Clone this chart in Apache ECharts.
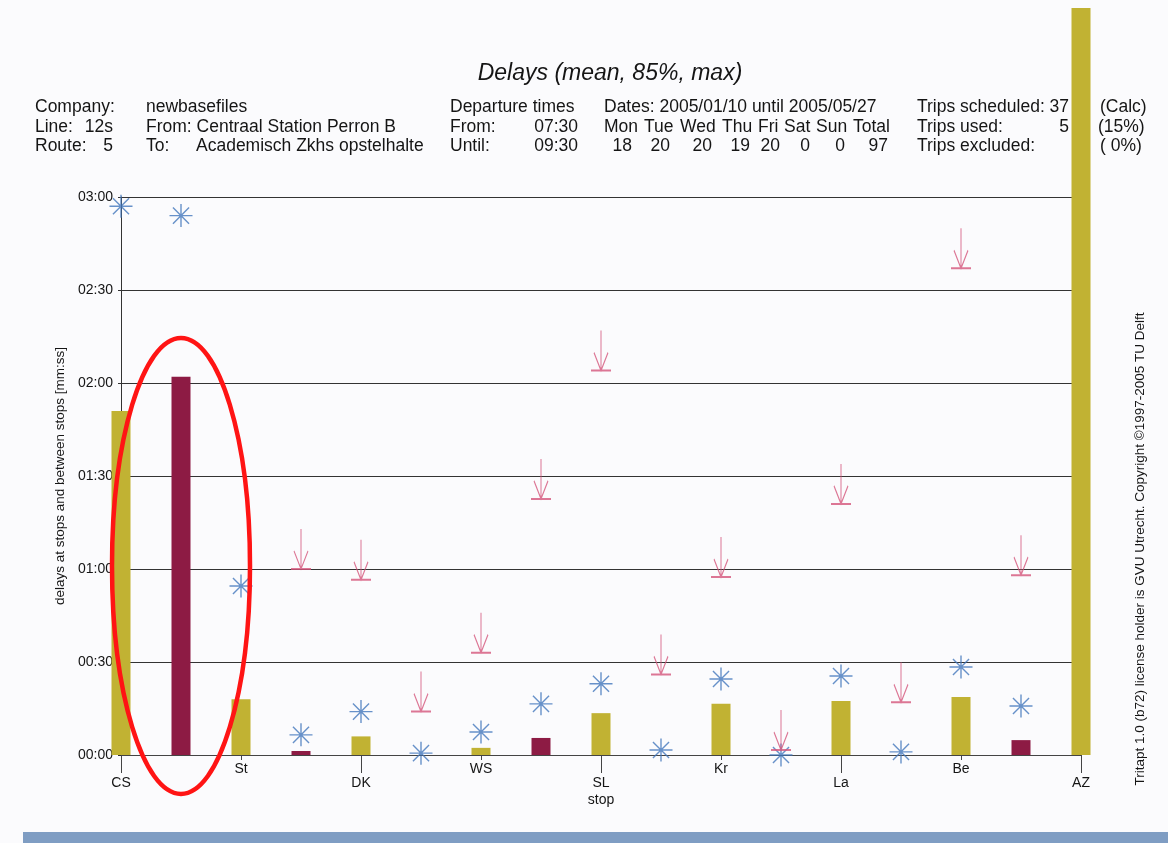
<!DOCTYPE html>
<html>
<head>
<meta charset="utf-8">
<script src="https://cdn.jsdelivr.net/npm/echarts@6/dist/echarts.min.js"></script>
<style>html,body{margin:0;padding:0;background:#fff}#c{width:1168px;height:843px}</style>
</head>
<body>
<div id="c"></div>
<script>
// ---- data (seconds) ----
var categories = ['CS','','St','','DK','','WS','','SL\nstop','','Kr','','La','','Be','','AZ'];
var upperLabelIdx = [2, 6, 10, 14];
var lowerLabelIdx = [0, 4, 8, 12, 16];
var meanDelay = [111, 122, 18, 1.3, 6, 0, 2.3, 5.5, 13.5, 0, 16.5, 0, 17.4, 0, 18.7, 4.8, 241];
var p85Delay  = [177, 174, 54.5, 6.5, 14, 0.6, 7.4, 16.5, 23, 1.6, 24.5, 0, 25.5, 1, 28.4, 15.8, null];
var maxDelay  = [null, null, null, 60, 56.5, 14, 33, 82.6, 124, 26, 57.4, 1.6, 81, 17, 157, 58, null];
var yTicks = [0, 30, 60, 90, 120, 150, 180];

var headerRows = [
  ['Company:', 'newbasefiles', 'Departure times', 'Dates: 2005/01/10 until 2005/05/27', 'Trips scheduled: 37', '(Calc)'],
  ['Line:', '12s', 'From: Centraal Station Perron B', 'From:', '07:30', 'Trips used:', '5', '(15%)'],
  ['Route:', '5', 'To:', 'Academisch Zkhs opstelhalte', 'Until:', '09:30', 'Trips excluded:', '( 0%)']
];
var dayNames = ['Mon', 'Tue', 'Wed', 'Thu', 'Fri', 'Sat', 'Sun', 'Total'];
var dayCounts = ['18', '20', '20', '19', '20', '0', '0', '97'];

var YELLOW = '#c1b233', DARKRED = '#8d1b44', PINK = '#d4557b', BLUE = '#4277bb';
var FONT = '"Liberation Sans", Arial, sans-serif';
var HF = 17.5;

function pad(n){ return (n < 10 ? '0' : '') + n; }
function mmss(v){ return pad(Math.floor(v / 60)) + ':' + pad(Math.round(v % 60)); }

var chart = echarts.init(document.getElementById('c'));

function txt(x, y, s, align, size, extra) {
  var o = { type: 'text', x: x, y: y, silent: true,
    style: { text: s, fill: '#151515', font: (size || HF) + 'px ' + FONT, textAlign: align || 'left', textVerticalAlign: 'middle' } };
  if (extra) for (var k in extra) o[k] = extra[k];
  return o;
}

var rowY = [107, 127, 146];
var r = headerRows;
var graphics = [
  { type: 'rect', shape: { x: 23, y: 832, width: 1145, height: 11 }, style: { fill: '#7f9dc3' }, silent: true },
  // row 1
  txt(35, rowY[0], r[0][0]), txt(146, rowY[0], r[0][1]), txt(450, rowY[0], r[0][2]),
  txt(604, rowY[0], r[0][3]), txt(917, rowY[0], r[0][4]), txt(1100, rowY[0], r[0][5]),
  // row 2
  txt(35, rowY[1], r[1][0]), txt(113, rowY[1], r[1][1], 'right'), txt(146, rowY[1], r[1][2]),
  txt(450, rowY[1], r[1][3]), txt(578, rowY[1], r[1][4], 'right'),
  txt(917, rowY[1], r[1][5]), txt(1069, rowY[1], r[1][6], 'right'), txt(1098, rowY[1], r[1][7]),
  // row 3
  txt(35, rowY[2], r[2][0]), txt(113, rowY[2], r[2][1], 'right'), txt(146, rowY[2], r[2][2]),
  txt(196, rowY[2], r[2][3]), txt(450, rowY[2], r[2][4]), txt(578, rowY[2], r[2][5], 'right'),
  txt(917, rowY[2], r[2][6]), txt(1100, rowY[2], r[2][7]),
  // copyright vertical
  txt(1140, 549, 'Tritapt 1.0 (b72) license holder is GVU Utrecht. Copyright \u00a91997-2005 TU Delft', 'center', 13.5, { rotation: Math.PI / 2 })
];
var dayX = [604, 644, 680, 722, 758, 784, 816, 853];
var countRight = [632, 670, 712, 750, 780, 810, 845, 888];
dayNames.forEach(function (d, i) { graphics.push(txt(dayX[i], rowY[1], d, 'left')); });
dayCounts.forEach(function (c, i) { graphics.push(txt(countRight[i], rowY[2], c, 'right')); });

var starPath = 'path://M10 0L10 20M0 10L20 10M3 3L17 17M17 3L3 17';
var arrowPath = 'path://M10 0L10 40M3 22L10 40L17 22M0 40L20 40';

var labelStyle = { color: '#151515', fontSize: 14, fontFamily: FONT, lineHeight: 17 };

chart.setOption({
  backgroundColor: '#fbfbfd',
  animation: false,
  title: {
    text: 'Delays (mean, 85%, max)', left: 605, top: 57, textAlign: 'center',
    textStyle: { fontSize: 23, fontStyle: 'italic', fontWeight: 'normal', fontFamily: FONT, color: '#151515' }
  },
  grid: { left: 121, right: 87, top: 197, bottom: 88, containLabel: false },
  xAxis: [
    {
      type: 'category', data: categories, boundaryGap: false,
      axisLine: { show: true, lineStyle: { color: '#444', width: 1 } },
      axisTick: { show: true, length: 5, lineStyle: { color: '#444' },
        interval: function (i) { return upperLabelIdx.indexOf(i) >= 0; } },
      axisLabel: Object.assign({ margin: 6,
        interval: function (i) { return upperLabelIdx.indexOf(i) >= 0; } }, labelStyle),
      splitLine: { show: false }
    },
    {
      type: 'category', data: categories, boundaryGap: false, position: 'bottom', gridIndex: 0,
      axisLine: { show: false },
      axisTick: { show: true, length: 18, lineStyle: { color: '#444' },
        interval: function (i) { return lowerLabelIdx.indexOf(i) >= 0; } },
      axisLabel: Object.assign({ margin: 20,
        interval: function (i) { return lowerLabelIdx.indexOf(i) >= 0; } }, labelStyle),
      splitLine: { show: false }
    }
  ],
  yAxis: {
    type: 'value', min: yTicks[0], max: yTicks[yTicks.length - 1], interval: 30,
    name: 'delays at stops and between stops [mm:ss]', nameLocation: 'middle', nameGap: 50,
    nameRotate: 90, nameTextStyle: { color: '#151515', fontSize: 13.5, fontFamily: FONT },
    axisLine: { show: true, lineStyle: { color: '#333' } },
    axisTick: { show: true, length: 3, lineStyle: { color: '#333' } },
    axisLabel: { formatter: mmss, margin: 8, color: '#151515', fontSize: 14, fontFamily: FONT },
    splitLine: { show: true, lineStyle: { color: '#333', width: 1 } }
  },
  series: [
    {
      name: 'mean', type: 'bar', barWidth: 19, clip: false, z: 2,
      data: meanDelay.map(function (v, i) {
        return { value: v, itemStyle: { color: i % 2 === 0 ? YELLOW : DARKRED } };
      })
    },
    {
      name: '85%', type: 'scatter', symbol: starPath, symbolSize: 23, z: 3,
      itemStyle: { color: 'rgba(0,0,0,0)', borderColor: BLUE, borderWidth: 1.4 },
      data: p85Delay
    },
    {
      name: 'max', type: 'scatter', symbol: arrowPath, symbolSize: [20, 40], symbolOffset: [0, -20], z: 4,
      itemStyle: { color: 'rgba(0,0,0,0)', borderColor: PINK, borderWidth: 1.4 },
      data: maxDelay
    }
  ],
  graphic: graphics
});

// red ellipse annotation around the second bar
var c = chart.convertToPixel({ xAxisIndex: 0, yAxisIndex: 0 }, [1, 61]);
graphics.push({ type: 'ellipse', silent: true, z: 100,
  shape: { cx: c[0], cy: c[1], rx: 69, ry: 228 },
  style: { fill: 'none', stroke: '#ff1414', lineWidth: 4.5 } });
chart.setOption({ graphic: graphics }, { replaceMerge: ['graphic'] });
</script>
</body>
</html>
